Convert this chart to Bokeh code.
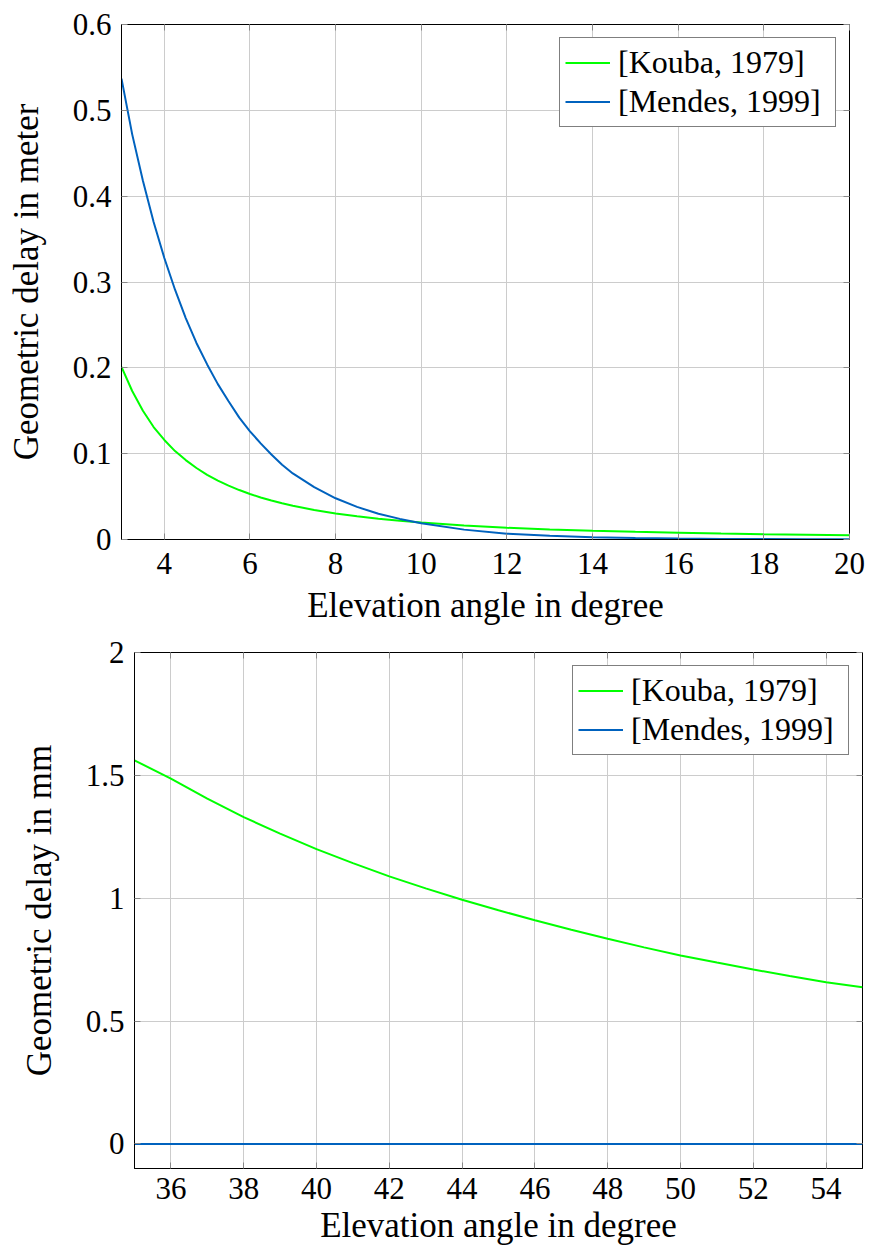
from bokeh.plotting import figure
from bokeh.layouts import column
from bokeh.models import FixedTicker, LinearAxis, Range1d, Legend, LegendItem
from bokeh.embed import file_html
from bokeh.resources import INLINE

# ---- data ----
top_x = [3, 3.25, 3.5, 3.75, 4, 4.25, 4.5, 4.75, 5, 5.25, 5.5, 5.75, 6, 6.25, 6.5, 6.75, 7, 7.5, 8,
         8.5, 9, 9.5, 10, 11, 12, 13, 14, 15, 16, 17, 18, 19, 20]
kouba_top = [0.201, 0.173, 0.150, 0.131, 0.116, 0.103, 0.0925, 0.0833, 0.0754, 0.0686, 0.0628, 0.0576,
             0.0530, 0.0490, 0.0455, 0.0423, 0.0393, 0.0344, 0.0304, 0.0271, 0.0243, 0.0219, 0.0197,
             0.0163, 0.0136, 0.0116, 0.0101, 0.0089, 0.0079, 0.0070, 0.0062, 0.0055, 0.0049]
mendes_top = [0.537, 0.472, 0.418, 0.370, 0.328, 0.291, 0.258, 0.229, 0.204, 0.181, 0.161, 0.142,
              0.126, 0.112, 0.099, 0.087, 0.077, 0.061, 0.048, 0.038, 0.030, 0.024, 0.019,
              0.0115, 0.0068, 0.0043, 0.0027, 0.0017, 0.0011, 0.0007, 0.0005, 0.0003, 0.0002]

bot_x = [35, 36, 37, 38, 39, 40, 41, 42, 43, 44, 45, 46, 47, 48, 49, 50, 51, 52, 53, 54, 55]
kouba_bot = [1.561, 1.487, 1.405, 1.330, 1.263, 1.200, 1.143, 1.089, 1.040, 0.994, 0.951, 0.910, 0.872,
             0.835, 0.800, 0.767, 0.738, 0.710, 0.683, 0.658, 0.638]
mendes_bot = [0.0] * len(bot_x)

top_xticks = [4, 6, 8, 10, 12, 14, 16, 18, 20]
top_yticks = [0, 0.1, 0.2, 0.3, 0.4, 0.5, 0.6]
top_ylabels = ["0", "0.1", "0.2", "0.3", "0.4", "0.5", "0.6"]
bot_xticks = [36, 38, 40, 42, 44, 46, 48, 50, 52, 54]
bot_yticks = [0, 0.5, 1, 1.5, 2]
bot_ylabels = ["0", "0.5", "1", "1.5", "2"]

series_names = ["[Kouba, 1979]", "[Mendes, 1999]"]
GREEN = "#00ff00"
BLUE = "#0062be"
FONT = "Liberation Serif"


def make_plot(width, height, xr, yr, xticks, yticks, ylabels, ylab, xs, ys_list,
              bl, br, bt, bb, x_std, x_lab_std):
    p = figure(width=width, height=height, x_range=Range1d(*xr), y_range=Range1d(*yr),
               output_backend="svg", toolbar_location=None, tools="",
               min_border_left=bl, min_border_right=br, min_border_top=bt, min_border_bottom=bb)
    p.frame_align = False
    p.outline_line_color = "black"
    p.outline_line_width = 1
    p.background_fill_color = "white"
    p.border_fill_color = "white"

    lines = []
    for ys, col in zip(ys_list, [GREEN, BLUE]):
        r = p.line(xs, ys, line_color=col, line_width=2)
        lines.append(r)

    xa = p.xaxis[0]
    ya = p.yaxis[0]
    xa.ticker = FixedTicker(ticks=xticks)
    ya.ticker = FixedTicker(ticks=yticks)
    ya.major_label_overrides = {t: l for t, l in zip(yticks, ylabels)}
    xa.axis_label = "Elevation angle in degree"
    ya.axis_label = ylab
    for ax in (xa, ya):
        ax.axis_line_color = "black"
        ax.major_tick_in = 6
        ax.major_tick_out = 0
        ax.major_tick_line_color = "#888888"
        ax.minor_tick_line_color = None
        ax.major_label_text_font = FONT
        ax.major_label_text_font_size = "31px"
        ax.major_label_text_color = "black"
        ax.axis_label_text_font = FONT
        ax.axis_label_text_font_size = "35px"
        ax.axis_label_text_font_style = "normal"
        ax.axis_label_text_color = "black"
    xa.major_label_standoff = x_std
    ya.major_label_standoff = 10
    xa.axis_label_standoff = x_lab_std
    ya.axis_label_standoff = 24

    # mirrored ticks on top and right
    for loc, ticks in (("above", xticks), ("right", yticks)):
        ax = LinearAxis(ticker=FixedTicker(ticks=ticks), axis_line_color=None,
                        major_tick_in=6, major_tick_out=0, major_tick_line_color="#888888",
                        minor_tick_line_color=None, major_label_text_font_size="0px",
                        major_label_text_alpha=0, major_label_standoff=0)
        p.add_layout(ax, loc)

    p.grid.grid_line_color = "#cccccc"
    p.grid.grid_line_width = 1
    p.xgrid.ticker = FixedTicker(ticks=xticks)
    p.ygrid.ticker = FixedTicker(ticks=yticks)

    legend = Legend(items=[LegendItem(label=n, renderers=[r]) for n, r in zip(series_names, lines)],
                    location="top_right", margin=13, padding=5, spacing=0,
                    glyph_width=45, glyph_height=39, label_height=39, label_width=212,
                    label_standoff=8,
                    label_text_font=FONT, label_text_font_size="32px", label_text_color="black",
                    border_line_color="black", border_line_width=1,
                    background_fill_color="white", background_fill_alpha=1)
    p.add_layout(legend)
    return p


p1 = make_plot(869, 630, (3, 20), (0, 0.6), top_xticks, top_yticks, top_ylabels,
               "Geometric delay in meter", top_x, [kouba_top, mendes_top],
               121, 20, 24, 91, 13, 9)
p2 = make_plot(869, 620, (35, 55), (-0.1, 2), bot_xticks, bot_yticks, bot_ylabels,
               "Geometric delay in mm", bot_x, [kouba_bot, mendes_bot],
               134, 7, 22, 82, 9, 4)

layout = column(p1, p2, spacing=0)
open("out.html", "w").write(file_html(layout, INLINE))
